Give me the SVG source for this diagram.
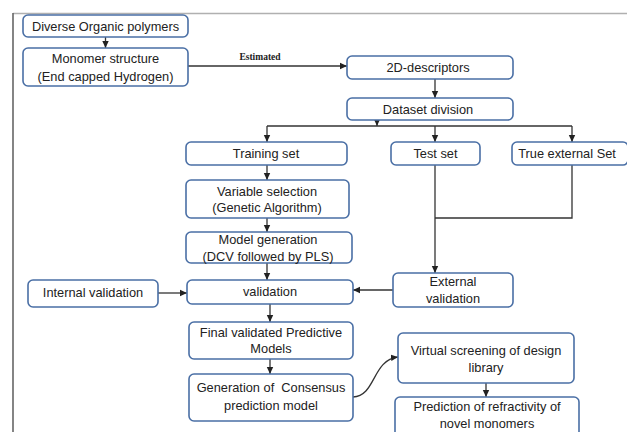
<svg xmlns="http://www.w3.org/2000/svg" width="627" height="432" viewBox="0 0 627 432">
<style>
.box{fill:#fff;stroke:#4a6fa5;stroke-width:1.6}
.t{font-family:"Liberation Sans",Arial,sans-serif;font-size:12.8px;fill:#222;text-anchor:middle}
.c{fill:none;stroke:#333;stroke-width:1.3}
.est{font-family:"Liberation Serif","Times New Roman",serif;font-size:9.5px;font-weight:bold;fill:#222;text-anchor:middle}
</style>
<defs>
<marker id="ah" markerWidth="8" markerHeight="8" refX="7" refY="4" orient="auto" markerUnits="userSpaceOnUse">
<path d="M0,0.8 L7,4 L0,7.2 Z" fill="#222"/>
</marker>
</defs>
<rect width="627" height="432" fill="#fff"/>
<g id="frame">
<line x1="13" y1="13.5" x2="627" y2="13.5" stroke="#b0b0b0" stroke-width="1.5"/>
<line x1="13" y1="13" x2="13" y2="432" stroke="#666" stroke-width="1.6"/>
</g>
<g id="connectors">
<line class="c" x1="105.5" y1="37" x2="105.5" y2="48" marker-end="url(#ah)"/>
<line class="c" x1="188" y1="66" x2="347" y2="66" marker-end="url(#ah)"/>
<line class="c" x1="435" y1="79" x2="435" y2="98" marker-end="url(#ah)"/>
<line class="c" x1="377" y1="120" x2="377" y2="126" marker-end="url(#ah)"/>
<line class="c" x1="267" y1="126" x2="572" y2="126"/>
<line class="c" x1="267" y1="126" x2="267" y2="142" marker-end="url(#ah)"/>
<line class="c" x1="435" y1="126" x2="435" y2="142" marker-end="url(#ah)"/>
<line class="c" x1="572" y1="126" x2="572" y2="142" marker-end="url(#ah)"/>
<line class="c" x1="267" y1="165" x2="267" y2="180" marker-end="url(#ah)"/>
<line class="c" x1="267" y1="218" x2="267" y2="232" marker-end="url(#ah)"/>
<line class="c" x1="267" y1="263" x2="267" y2="280" marker-end="url(#ah)"/>
<line class="c" x1="435" y1="165" x2="435" y2="273" marker-end="url(#ah)"/>
<polyline class="c" points="572,165 572,218 435,218"/>
<line class="c" x1="393" y1="290" x2="353" y2="290" marker-end="url(#ah)"/>
<line class="c" x1="158" y1="293" x2="187" y2="293" marker-end="url(#ah)"/>
<line class="c" x1="270" y1="304" x2="270" y2="322" marker-end="url(#ah)"/>
<line class="c" x1="270" y1="359" x2="270" y2="374" marker-end="url(#ah)"/>
<path class="c" d="M353,397 C376,396 372,360 398,357" marker-end="url(#ah)"/>
<line class="c" x1="486" y1="383" x2="486" y2="397" marker-end="url(#ah)"/>
<text class="est" x="260" y="60">Estimated</text>
</g>
<g id="n1"><rect class="box" x="23" y="15" width="165" height="22" rx="5"/><text class="t" x="105.5" y="30.5">Diverse Organic polymers</text></g>
<g id="n2"><rect class="box" x="23" y="48" width="165" height="38" rx="5"/><text class="t" x="105.5" y="63">Monomer structure</text><text class="t" x="105.5" y="81">(End capped Hydrogen)</text></g>
<g id="n3"><rect class="box" x="347" y="56" width="166" height="23" rx="5"/><text class="t" x="428" y="72">2D-descriptors</text></g>
<g id="n4"><rect class="box" x="347" y="98" width="166" height="22" rx="5"/><text class="t" x="428" y="114">Dataset division</text></g>
<g id="n5"><rect class="box" x="186" y="142" width="161" height="23" rx="5"/><text class="t" x="266" y="158">Training set</text></g>
<g id="n6"><rect class="box" x="391" y="142" width="89" height="23" rx="5"/><text class="t" x="435.5" y="158">Test set</text></g>
<g id="n7"><rect class="box" x="512" y="142" width="116" height="23" rx="5"/><text class="t" x="567" y="158">True external Set</text></g>
<g id="n8"><rect class="box" x="186" y="180" width="163" height="38" rx="5"/><text class="t" x="267" y="196">Variable selection</text><text class="t" x="267" y="212">(Genetic Algorithm)</text></g>
<g id="n9"><rect class="box" x="186" y="232" width="166" height="31" rx="5"/><text class="t" x="268" y="244">Model generation</text><text class="t" x="268" y="261">(DCV followed by PLS)</text></g>
<g id="n10"><rect class="box" x="393" y="273" width="120" height="34" rx="5"/><text class="t" x="453" y="286">External</text><text class="t" x="453" y="303">validation</text></g>
<g id="n11"><rect class="box" x="28" y="280" width="130" height="27" rx="5"/><text class="t" x="93" y="297">Internal validation</text></g>
<g id="n12"><rect class="box" x="187" y="280" width="166" height="24" rx="5"/><text class="t" x="270" y="296">validation</text></g>
<g id="n13"><rect class="box" x="189" y="322" width="164" height="37" rx="5"/><text class="t" x="271" y="337">Final validated Predictive</text><text class="t" x="271" y="353">Models</text></g>
<g id="n14"><rect class="box" x="189" y="374" width="164" height="47" rx="5"/><text class="t" x="271" y="392" xml:space="preserve">Generation of  Consensus</text><text class="t" x="271" y="410">prediction model</text></g>
<g id="n15"><rect class="box" x="398" y="333" width="176" height="50" rx="5"/><text class="t" x="486" y="355">Virtual screening of design</text><text class="t" x="486" y="372">library</text></g>
<g id="n16"><rect class="box" x="395" y="397" width="184" height="42" rx="5"/><text class="t" x="487" y="411">Prediction of refractivity of</text><text class="t" x="487" y="428">novel monomers</text></g>
</svg>
